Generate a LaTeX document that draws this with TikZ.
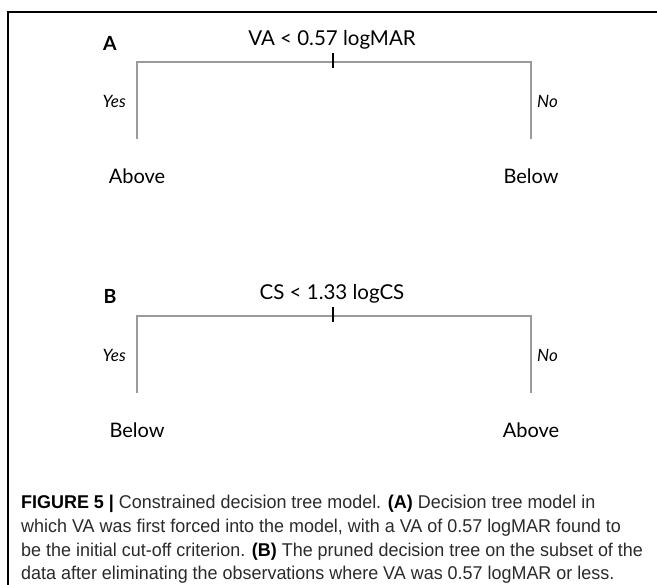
\documentclass[tikz,border=0pt]{standalone}
\usepackage{fontspec}
\setmainfont{Lato}
\newfontfamily\capfont[FakeStretch=0.97]{Liberation Sans}
\definecolor{branchgray}{HTML}{9A9A9A}
\definecolor{captext}{HTML}{2A2A2A}
\tikzset{
  branch/.style={draw=branchgray, line width=1.6pt},
  ticker/.style={draw=black, line width=1.5pt},
  frameline/.style={draw=black, line width=1.3pt},
  treetitle/.style={inner sep=0pt, font=\fontsize{20.5}{24}\selectfont},
  panellabel/.style={inner sep=0pt, font=\fontsize{19.5}{23}\selectfont\bfseries},
  leaf/.style={inner sep=0pt, font=\fontsize{20}{24}\selectfont},
  yesno/.style={inner sep=0pt, font=\fontsize{17}{20}\selectfont\itshape},
  capline/.style={inner sep=0pt, anchor=base west, text=captext, font=\capfont\fontsize{18.5}{22}\selectfont},
}
\begin{document}
\begin{tikzpicture}[x=1pt,y=-1pt]
\useasboundingbox (0,0) rectangle (657,585);
% frame
\coordinate (fbl) at (8,585);
\coordinate (ftl) at (8,12);
\coordinate (ftr) at (657,12);
\draw[frameline] (fbl) -- (ftl) -- (ftr);

% ---------- Panel A ----------
\node[panellabel] (labA) at (110,43) {A};
\node[treetitle] (titA) at (332,40) {VA < 0.57 logMAR};
\coordinate (tickAt) at (333,53);
\coordinate (tickAb) at (333,68);
\coordinate (aLt) at (137,62);
\coordinate (aRt) at (531,62);
\coordinate (aLb) at (137,139);
\coordinate (aRb) at (531,139);
\draw[branch] (aLb) -- (aLt) -- (aRt) -- (aRb);
\draw[ticker] (tickAt) -- (tickAb);
\node[yesno, anchor=east] (yesA) at (126,101) {Yes};
\node[yesno, anchor=west] (noA) at (537,101) {No};
\node[leaf] (leafAl) at (137,176) {Above};
\node[leaf] (leafAr) at (531,176) {Below};

% ---------- Panel B ----------
\node[panellabel] (labB) at (110,296) {B};
\node[treetitle] (titB) at (332,294) {CS < 1.33 logCS};
\coordinate (tickBt) at (333,307);
\coordinate (tickBb) at (333,322);
\coordinate (bLt) at (137,316);
\coordinate (bRt) at (531,316);
\coordinate (bLb) at (137,393);
\coordinate (bRb) at (531,393);
\draw[branch] (bLb) -- (bLt) -- (bRt) -- (bRb);
\draw[ticker] (tickBt) -- (tickBb);
\node[yesno, anchor=east] (yesB) at (126,355) {Yes};
\node[yesno, anchor=west] (noB) at (537,355) {No};
\node[leaf] (leafBl) at (137,430) {Below};
\node[leaf] (leafBr) at (531,430) {Above};

% ---------- Caption ----------
\node[capline] (cap1) at (21,509) {\textbf{\color{black}FIGURE 5 |} Constrained decision tree model. \textbf{\color{black}(A)} Decision tree model in};
\node[capline] (cap2) at (21,533) {which VA was first forced into the model, with a VA of 0.57 logMAR found to};
\node[capline] (cap3) at (21,557) {be the initial cut-off criterion. \textbf{\color{black}(B)} The pruned decision tree on the subset of the};
\node[capline] (cap4) at (21,580) {data after eliminating the observations where VA was 0.57 logMAR or less.};
\end{tikzpicture}
\end{document}
